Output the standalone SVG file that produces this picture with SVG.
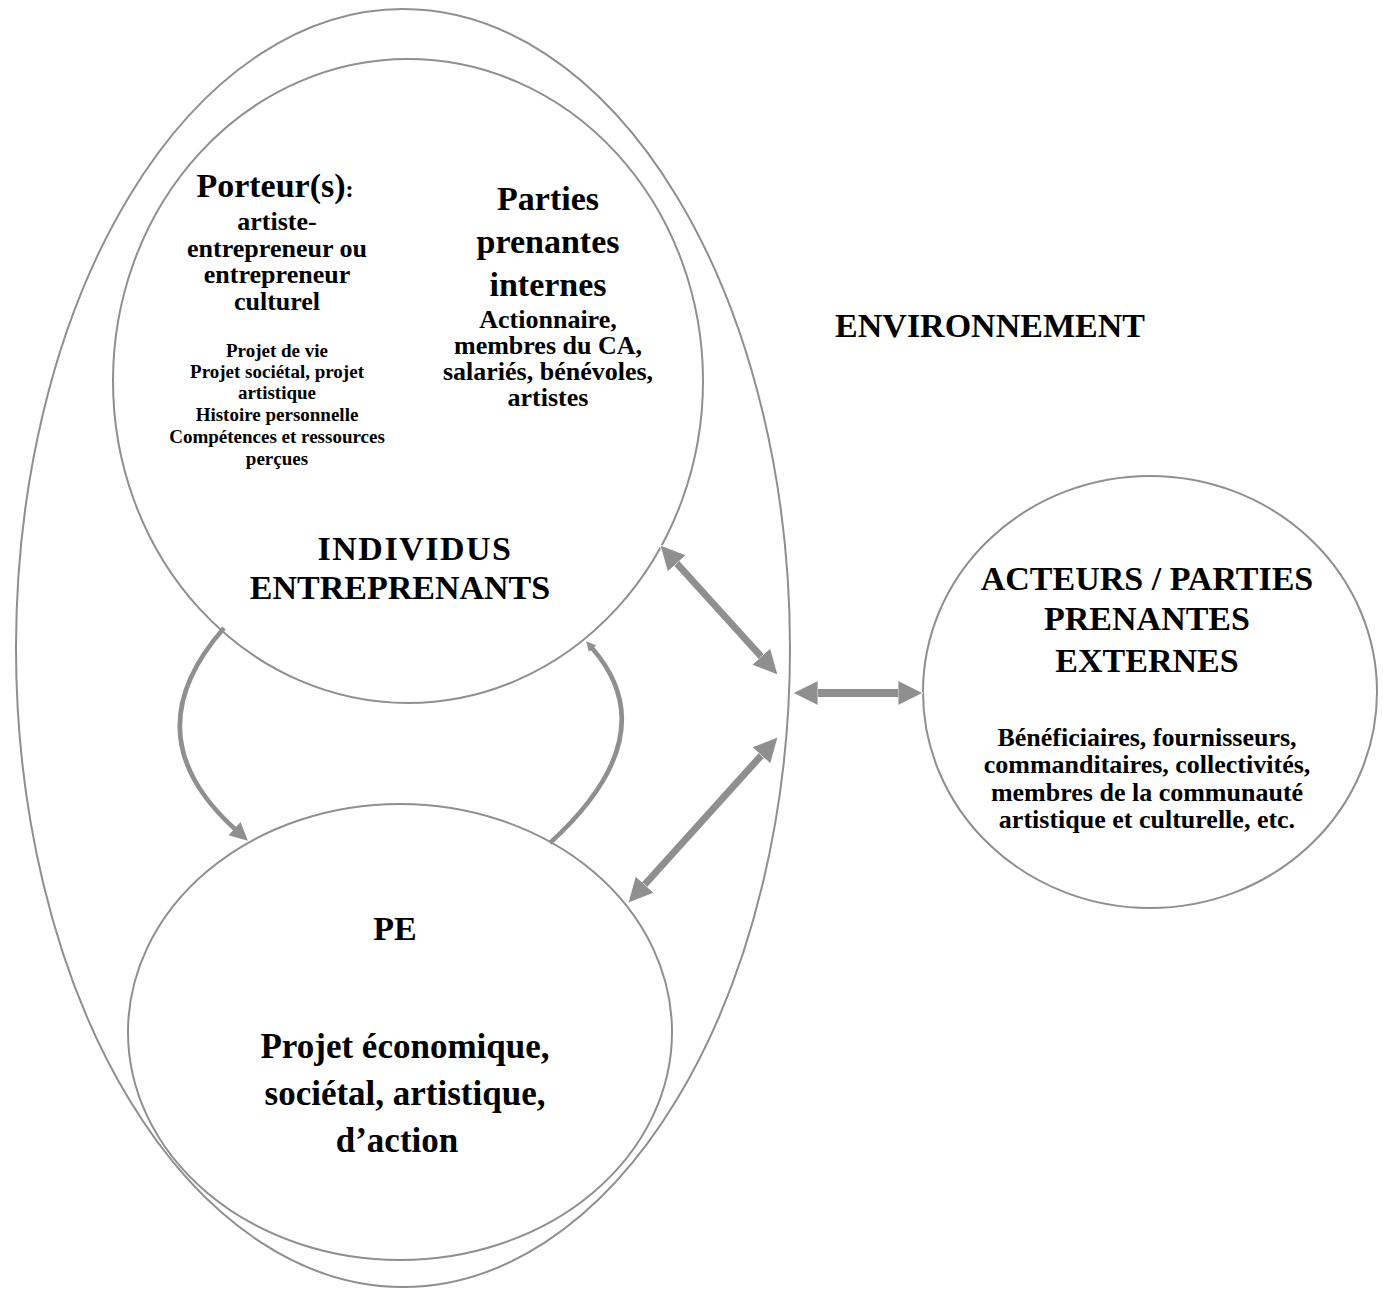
<svg xmlns="http://www.w3.org/2000/svg" width="1383" height="1289" viewBox="0 0 1383 1289">
<style>
.shape{fill:none;stroke:#8f8f8f;stroke-width:2}
.t{font-family:"Liberation Serif","Times New Roman",serif;font-weight:bold;fill:#000;text-anchor:middle}
.big{font-size:34px}
.mid{font-size:26px}
.sm{font-size:19px}
.pe{font-size:35px}
.conn{fill:none;stroke:#8f8f8f}
</style>
<defs>
<marker id="head" markerUnits="userSpaceOnUse" markerWidth="26" markerHeight="26" refX="2" refY="12.5" orient="auto-start-reverse" viewBox="0 0 26 25">
<path d="M0,0 L25,12.5 L0,25 z" fill="#8f8f8f" stroke="#fff" stroke-width="0.8"/>
</marker>
<marker id="headS" markerUnits="userSpaceOnUse" markerWidth="20" markerHeight="20" refX="2" refY="9" orient="auto" viewBox="0 0 20 18">
<path d="M0,0 L18,9 L0,18 z" fill="#8f8f8f"/>
</marker>
<marker id="headXS" markerUnits="userSpaceOnUse" markerWidth="12" markerHeight="12" refX="1" refY="5" orient="auto" viewBox="0 0 12 10">
<path d="M0,0 L10,5 L0,10 z" fill="#8f8f8f"/>
</marker>
</defs>
<rect width="1383" height="1289" fill="#fff"/>

<g id="environnement">
<ellipse class="shape" cx="403" cy="648" rx="387" ry="639"/>
<text class="t big" x="990" y="337">ENVIRONNEMENT</text>
</g>

<g id="individus">
<ellipse class="shape" cx="408" cy="381" rx="295" ry="322"/>
<text class="t big" x="275" y="197">Porteur(s)<tspan style="font-size:24px">:</tspan></text>
<text class="t mid" x="277" y="230">artiste-</text>
<text class="t mid" x="277" y="257">entrepreneur ou</text>
<text class="t mid" x="277" y="283">entrepreneur</text>
<text class="t mid" x="277" y="310">culturel</text>
<text class="t sm" x="277" y="357">Projet de vie</text>
<text class="t sm" x="277" y="378">Projet sociétal, projet</text>
<text class="t sm" x="277" y="399">artistique</text>
<text class="t sm" x="277" y="421">Histoire personnelle</text>
<text class="t sm" x="277" y="443">Compétences et ressources</text>
<text class="t sm" x="277" y="465">perçues</text>
<text class="t big" x="548" y="210">Parties</text>
<text class="t big" x="548" y="253">prenantes</text>
<text class="t big" x="548" y="296">internes</text>
<text class="t mid" x="548" y="328">Actionnaire,</text>
<text class="t mid" x="548" y="354">membres du CA,</text>
<text class="t mid" x="548" y="380">salariés, bénévoles,</text>
<text class="t mid" x="548" y="406">artistes</text>
<text class="t big" x="415" y="560" letter-spacing="1.5">INDIVIDUS</text>
<text class="t big" x="400" y="599">ENTREPRENANTS</text>
</g>

<g id="pe">
<ellipse class="shape" cx="400" cy="1032" rx="272" ry="228"/>
<text class="t big" x="395" y="940">PE</text>
<text class="t pe" x="405" y="1058">Projet économique,</text>
<text class="t pe" x="405" y="1105">sociétal, artistique,</text>
<text class="t pe" x="397" y="1152">d’action</text>
</g>

<g id="acteurs">
<ellipse class="shape" cx="1150" cy="692" rx="227" ry="216"/>
<text class="t big" x="1147" y="590">ACTEURS / PARTIES</text>
<text class="t big" x="1147" y="630">PRENANTES</text>
<text class="t big" x="1147" y="672">EXTERNES</text>
<text class="t mid" x="1147" y="746">Bénéficiaires, fournisseurs,</text>
<text class="t mid" x="1147" y="773">commanditaires, collectivités,</text>
<text class="t mid" x="1147" y="801">membres de la communauté</text>
<text class="t mid" x="1147" y="828">artistique et culturelle, etc.</text>
</g>

<g id="connectors">
<path class="conn" stroke-width="7" d="M675.5,562 L762.5,658" marker-start="url(#head)" marker-end="url(#head)"/>
<path class="conn" stroke-width="7" d="M762.6,754 L643.4,886" marker-start="url(#head)" marker-end="url(#head)"/>
<path class="conn" stroke-width="8" d="M816,693 L900,693" marker-start="url(#head)" marker-end="url(#head)"/>
<path class="conn" stroke-width="4.5" d="M224,628 Q130,735 236,830" marker-end="url(#headS)"/>
<path class="conn" stroke-width="4.5" d="M550,843 Q668,735 592,648" marker-end="url(#headXS)"/>
</g>
</svg>
